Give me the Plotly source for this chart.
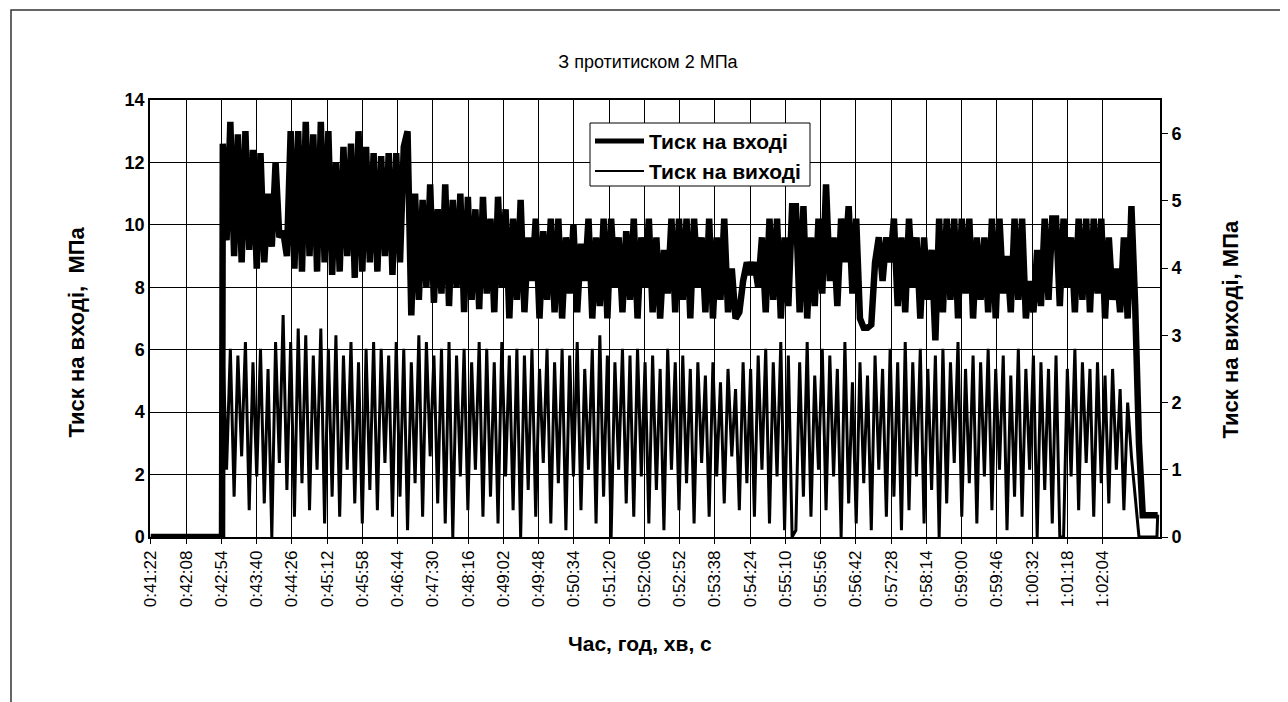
import numpy as np
import plotly.graph_objects as go

# ---------------- data ----------------
tick_labels = ["0:41:22", "0:42:08", "0:42:54", "0:43:40", "0:44:26", "0:45:12", "0:45:58",
               "0:46:44", "0:47:30", "0:48:16", "0:49:02", "0:49:48", "0:50:34", "0:51:20",
               "0:52:06", "0:52:52", "0:53:38", "0:54:24", "0:55:10", "0:55:56", "0:56:42",
               "0:57:28", "0:58:14", "0:59:00", "0:59:46", "1:00:32", "1:01:18", "1:02:04"]

series_names = ["Тиск на вході", "Тиск на виході"]

start_s = 41 * 60 + 22          # 0:41:22
label_step_s = 46               # label every 46 s
jump_s = start_s + 94           # pressure switched on
sample_step_s = 4.92            # recorded samples while running

# inlet pressure, MPa (left axis) - samples from jump_s every sample_step_s
inlet = [
    12.6, 9.5, 13.3, 9.0, 12.9, 8.8, 13.0, 9.2, 12.4, 8.6,
    12.3, 8.8, 11.0, 9.3, 12.0, 9.6, 9.8, 9.0, 13.0, 8.6,
    13.0, 8.5, 13.3, 9.0, 12.9, 8.5, 13.3, 8.8, 13.0, 8.4,
    12.0, 8.5, 12.5, 9.0, 12.6, 8.3, 13.0, 8.5, 12.5, 8.8,
    12.3, 8.5, 12.2, 9.0, 12.3, 8.4, 12.3, 8.8, 12.5, 13.0,
    7.1, 11.0, 7.6, 10.8, 8.0, 11.3, 7.5, 10.5, 7.8, 11.3,
    7.4, 10.8, 8.0, 11.0, 7.2, 10.9, 7.6, 10.5, 7.3, 10.9,
    7.8, 10.2, 7.2, 10.9, 8.0, 10.5, 7.0, 10.2, 7.6, 10.8,
    7.2, 9.6, 8.2, 10.2, 7.0, 9.8, 7.6, 10.2, 7.2, 10.2,
    7.0, 9.6, 7.8, 10.0, 7.2, 9.4, 8.2, 10.2, 7.0, 9.6,
    7.4, 10.2, 7.0, 10.2, 8.0, 9.6, 7.2, 9.8, 7.6, 10.2,
    7.0, 9.6, 8.0, 10.2, 7.2, 9.6, 7.0, 9.2, 7.8, 10.2,
    7.2, 10.2, 7.6, 10.2, 7.0, 10.2, 8.0, 9.6, 7.2, 10.2,
    7.0, 9.6, 7.6, 10.2, 7.2, 8.6, 7.0, 7.2, 8.2, 8.8,
    8.4, 8.8, 8.0, 9.6, 7.2, 10.2, 7.6, 10.2, 7.0, 9.6,
    7.4, 10.6, 10.6, 7.2, 10.6, 7.0, 9.6, 7.4, 10.2, 7.8,
    11.3, 8.2, 9.6, 7.4, 10.2, 8.8, 10.6, 7.8, 10.2, 7.0,
    6.7, 6.7, 6.8, 8.8, 9.6, 8.2, 9.6, 8.8, 10.2, 7.4,
    9.6, 7.2, 10.2, 8.0, 9.6, 7.0, 9.6, 7.6, 9.2, 6.3,
    10.2, 7.2, 10.2, 7.6, 10.2, 7.0, 10.2, 7.8, 10.2, 7.0,
    9.6, 7.6, 9.6, 7.2, 10.2, 7.0, 10.2, 7.8, 9.0, 7.2,
    10.2, 7.6, 10.2, 7.0, 8.2, 7.2, 9.2, 7.4, 10.2, 7.6,
    10.2, 10.2, 7.4, 10.2, 8.0, 9.6, 7.2, 10.2, 7.6, 10.2,
    7.2, 10.2, 7.8, 10.2, 7.0, 9.6, 7.6, 8.6, 7.2, 9.6,
    7.0, 10.6, 7.4, 3.0, 0.7,
]

# outlet pressure, MPa (right axis) - same sample times
outlet = [
    2.9, 1.0, 2.8, 0.6, 2.7, 1.2, 2.9, 0.4, 2.6, 0.9,
    2.8, 0.5, 2.5, 0.0, 2.9, 1.1, 3.3, 0.7, 2.9, 0.3,
    3.1, 0.8, 3.0, 0.4, 2.7, 1.0, 3.1, 0.2, 2.8, 0.6,
    3.0, 0.3, 2.7, 1.0, 2.9, 0.5, 2.6, 0.2, 2.8, 0.7,
    2.9, 0.4, 2.8, 1.1, 2.7, 0.3, 2.9, 0.6, 2.8, 0.1,
    2.6, 0.8, 3.0, 0.3, 2.9, 1.2, 2.7, 0.5, 2.8, 0.2,
    2.9, 0.0, 2.7, 0.9, 2.8, 0.4, 2.6, 1.0, 2.9, 0.3,
    2.8, 0.6, 2.6, 0.2, 2.9, 0.9, 2.7, 0.4, 2.8, 0.0,
    2.7, 0.7, 2.8, 0.3, 2.5, 1.1, 2.8, 0.2, 2.6, 0.8,
    2.8, 0.1, 2.7, 0.9, 2.9, 0.4, 2.5, 1.0, 2.8, 0.2,
    3.0, 0.6, 2.7, 0.0, 2.6, 1.0, 2.8, 0.5, 2.7, 0.3,
    2.8, 0.9, 2.6, 0.2, 2.7, 0.7, 2.5, 0.1, 2.8, 1.0,
    2.6, 0.4, 2.7, 0.8, 2.5, 0.2, 2.6, 1.1, 2.4, 0.3,
    2.6, 0.9, 2.3, 0.5, 2.5, 1.2, 2.2, 0.4, 2.6, 0.8,
    2.5, 0.3, 2.7, 1.0, 2.8, 0.2, 2.6, 0.9, 2.9, 0.1,
    2.7, 0.0, 0.1, 2.6, 0.6, 2.9, 0.3, 2.4, 1.0, 2.8,
    0.4, 2.7, 0.9, 2.5, 0.0, 2.9, 0.5, 2.3, 0.2, 2.6,
    0.8, 2.4, 0.1, 2.7, 1.0, 2.5, 0.3, 2.8, 0.6, 2.6,
    0.1, 2.9, 0.4, 2.6, 0.9, 2.8, 0.2, 2.5, 0.7, 2.7,
    0.0, 2.8, 0.5, 2.6, 1.1, 2.9, 0.3, 2.5, 0.8, 2.7,
    0.2, 2.6, 0.9, 2.8, 0.4, 2.5, 1.0, 2.7, 0.1, 2.4,
    0.6, 2.8, 0.3, 2.5, 1.0, 2.7, 0.0, 2.6, 0.7, 2.5,
    0.2, 2.7, 0.0, 0.0, 2.5, 0.9, 2.8, 0.4, 2.6, 1.1,
    2.5, 0.3, 2.6, 0.8, 2.4, 0.5, 2.5, 1.0, 2.2, 0.4,
    2.0, 1.2, 0.6, 0.0, 0.0,
]

# idle values before the jump and after the stop
idle_times_s = [start_s, jump_s - 1]
idle_inlet = [0.0, 0.0]
idle_outlet = [0.0, 0.0]
tail_times_s = [start_s + 1313, start_s + 1314]
tail_inlet = [0.7, 0.7]
tail_outlet = [0.0, 0.33]

# ---------------- build ----------------
run_times = list(jump_s + sample_step_s * np.arange(len(inlet)))
t_all = idle_times_s + run_times + tail_times_s
inlet_all = idle_inlet + inlet + tail_inlet
outlet_all = idle_outlet + outlet + tail_outlet

tick_vals = [start_s + label_step_s * k for k in range(len(tick_labels))]

FONT = "Liberation Sans, Arial, sans-serif"
W_THICK, W_THIN = 6.5, 3.0

fig = go.Figure()
fig.add_trace(go.Scatter(x=t_all, y=inlet_all, mode="lines", name=series_names[0],
                         line=dict(color="black", width=W_THICK), yaxis="y", showlegend=False))
fig.add_trace(go.Scatter(x=t_all, y=outlet_all, mode="lines", name=series_names[1],
                         line=dict(color="black", width=W_THIN), yaxis="y2", showlegend=False))

L, R, T, B = 142, 136, 92, 173
W, H = 1288, 702
pw, ph = W - L - R, H - T - B

def px_x(p):
    return (p - L) / pw

def px_y(p):
    return (H - B - p) / ph

fig.update_layout(
    width=W, height=H,
    margin=dict(l=L, r=R, t=T, b=B, autoexpand=False),
    paper_bgcolor="white", plot_bgcolor="white",
    font=dict(family=FONT, color="black"),
    title=dict(text="З протитиском 2 МПа", x=640 / W, xref="container", xanchor="center",
               y=1 - 54 / H, yref="container", yanchor="middle",
               font=dict(size=18, family=FONT, color="black")),
    showlegend=False,
    xaxis=dict(range=[start_s - 1, start_s + 1317],
               tickvals=tick_vals, ticktext=tick_labels, tickangle=-90,
               tickfont=dict(size=17, family=FONT, color="black"),
               showgrid=True, gridcolor="black", gridwidth=1,
               ticks="outside", ticklen=5, tickcolor="black",
               showline=True, linecolor="black", linewidth=1.5, mirror=True,
               zeroline=False, automargin=False),
    yaxis=dict(range=[0, 14], dtick=2, tick0=0,
               tickfont=dict(size=18, family=FONT, color="black", weight="bold"),
               showgrid=True, gridcolor="black", gridwidth=1,
               ticks="", showline=True, linecolor="black", linewidth=1.5, mirror=True,
               zeroline=False, automargin=False),
    yaxis2=dict(range=[0, 6.5], tickvals=[0, 1, 2, 3, 4, 5, 6], overlaying="y", side="right",
                tickfont=dict(size=18, family=FONT, color="black", weight="bold"),
                showgrid=False, ticks="outside", ticklen=7, tickcolor="black",
                showline=False, zeroline=False, automargin=False),
)

# axis titles
fig.add_annotation(text="<b>Тиск на вході,  МПа</b>", xref="paper", yref="paper",
                   x=px_x(53), y=px_y(324), textangle=-90, showarrow=False,
                   font=dict(size=22, family=FONT, color="black"))
fig.add_annotation(text="<b>Тиск на виході, МПа</b>", xref="paper", yref="paper",
                   x=px_x(1236), y=px_y(322), textangle=-90, showarrow=False,
                   font=dict(size=22, family=FONT, color="black"))
fig.add_annotation(text="<b>Час, год, хв, с</b>", xref="paper", yref="paper",
                   x=px_x(632), y=px_y(649), showarrow=False,
                   font=dict(size=21, family=FONT, color="black"))

# legend box drawn by hand (row height of the original is tighter than plotly's legend)
LEG_X0, LEG_X1, LEG_Y0, LEG_Y1 = 582, 802, 115, 178
fig.add_shape(type="rect", xref="paper", yref="paper",
              x0=px_x(LEG_X0), x1=px_x(LEG_X1), y0=px_y(LEG_Y1), y1=px_y(LEG_Y0),
              line=dict(color="black", width=1), fillcolor="white", layer="above")
for name, wdt, row_y in [(series_names[0], 5, 133), (series_names[1], 2, 163)]:
    fig.add_shape(type="line", xref="paper", yref="paper",
                  x0=px_x(587), x1=px_x(636), y0=px_y(row_y), y1=px_y(row_y),
                  line=dict(color="black", width=wdt), layer="above")
    fig.add_annotation(text="<b>" + name + "</b>", xref="paper", yref="paper",
                       x=px_x(639), y=px_y(row_y), xanchor="left", yanchor="middle",
                       showarrow=False, font=dict(size=21, family=FONT, color="black"))

# outer frame of the chart
fig.add_shape(type="rect", xref="paper", yref="paper",
              x0=px_x(3), y0=px_y(760), x1=px_x(1340), y1=px_y(2),
              line=dict(color="#333", width=1.5), fillcolor="rgba(0,0,0,0)", layer="below")

fig.write_html("out.html")
